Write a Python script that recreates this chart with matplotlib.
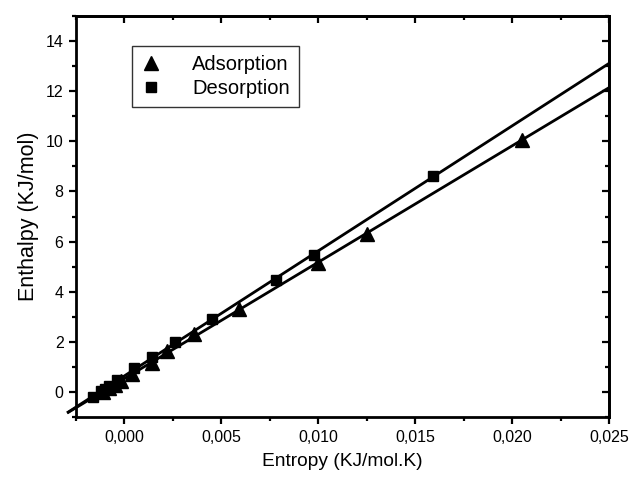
import numpy as np
import matplotlib
matplotlib.use("Agg")
import matplotlib.pyplot as plt
from matplotlib.ticker import MultipleLocator, FuncFormatter

plt.rcParams['font.family'] = ['Liberation Sans', 'DejaVu Sans']

# Data
ads_entropy = [-0.0011, -0.0008, -0.0005, -0.0002, 0.0004, 0.0014, 0.0022,
               0.0036, 0.0059, 0.0100, 0.0125, 0.0205]
ads_enthalpy = [0.00, 0.15, 0.28, 0.42, 0.70, 1.17, 1.62,
                2.30, 3.30, 5.13, 6.29, 10.07]

des_entropy = [-0.0016, -0.0012, -0.0010, -0.0008, -0.0004, 0.0005, 0.0014,
               0.0026, 0.0045, 0.0078, 0.0098, 0.0159]
des_enthalpy = [-0.20, 0.02, 0.10, 0.22, 0.48, 0.95, 1.40,
                2.00, 2.92, 4.46, 5.45, 8.62]

series_labels = ["Adsorption", "Desorption"]
x_label = "Entropy (KJ/mol.K)"
y_label = "Enthalpy (KJ/mol)"

fig = plt.figure(figsize=(6.32, 4.80), dpi=100)
ax = fig.add_axes([0.1203, 0.1312, 0.8433, 0.8355])

fit_x = np.array([-0.0029, 0.025])
for xs, ys in [(ads_entropy, ads_enthalpy), (des_entropy, des_enthalpy)]:
    k, b = np.polyfit(xs, ys, 1)
    ax.plot(fit_x, k * fit_x + b, color='black', lw=2.0, clip_on=False, zorder=2)

ax.plot(ads_entropy, ads_enthalpy, ls='none', marker='^', ms=9.5, color='black',
        label=series_labels[0], zorder=3)
ax.plot(des_entropy, des_enthalpy, ls='none', marker='s', ms=7.5, color='black',
        label=series_labels[1], zorder=3)

ax.set_xlim(-0.0025, 0.025)
ax.set_ylim(-1, 15)

ax.xaxis.set_major_locator(MultipleLocator(0.005))
ax.xaxis.set_minor_locator(MultipleLocator(0.0025))
ax.yaxis.set_major_locator(MultipleLocator(2))
ax.yaxis.set_minor_locator(MultipleLocator(1))
ax.xaxis.set_major_formatter(FuncFormatter(lambda v, p: f"{v:.3f}".replace('.', ',').replace('-0,000', '0,000')))
ax.yaxis.set_major_formatter(FuncFormatter(lambda v, p: f"{v:.0f}"))

for s in ax.spines.values():
    s.set_linewidth(2.0)

ax.tick_params(which='major', direction='out', length=5, width=1.6, labelsize=11.5, pad=4)
ax.tick_params(which='minor', direction='out', length=3, width=1.6)

secx = ax.secondary_xaxis('top')
secx.xaxis.set_major_locator(MultipleLocator(0.005))
secx.xaxis.set_minor_locator(MultipleLocator(0.0025))
secx.tick_params(which='major', direction='in', length=5, width=1.6, labeltop=False)
secx.tick_params(which='minor', direction='in', length=3, width=1.6)
secx.spines['top'].set_linewidth(2.0)

secy = ax.secondary_yaxis('right')
secy.yaxis.set_major_locator(MultipleLocator(2))
secy.yaxis.set_minor_locator(MultipleLocator(1))
secy.tick_params(which='major', direction='in', length=5, width=1.6, labelright=False)
secy.tick_params(which='minor', direction='in', length=3, width=1.6)
secy.spines['right'].set_linewidth(2.0)

ax.set_xlabel(x_label, fontsize=13.8, labelpad=6)
ax.set_ylabel(y_label, fontsize=15.5, labelpad=5)

leg = ax.legend(loc='upper left', bbox_to_anchor=(0.105, 0.925), borderaxespad=0,
                fontsize=14.5, frameon=True, fancybox=False, edgecolor='black',
                handlelength=1.0, handletextpad=1.55, borderpad=0.45,
                labelspacing=0.25)
leg.get_frame().set_linewidth(1.0)

fig.savefig("out.png", dpi=100)
